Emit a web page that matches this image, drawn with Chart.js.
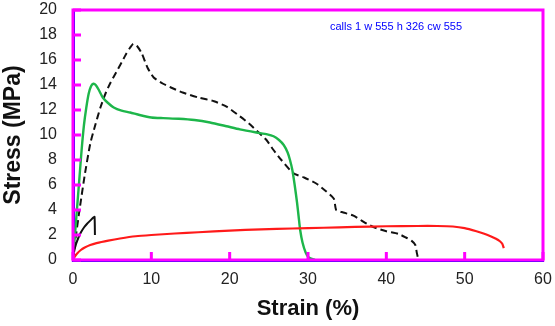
<!DOCTYPE html>
<html><head><meta charset="utf-8">
<script src="https://cdn.jsdelivr.net/npm/chart.js@4"></script>
<style>html,body{margin:0;padding:0;background:#fff}#wrap{width:555px;height:326px;position:relative}#err{position:absolute;left:330px;top:20px;width:210px;font:11px sans-serif;color:#00f}</style>
</head><body><div id="wrap"><canvas id="c"></canvas><div id="err">init</div></div>
<script>
window.onerror = function(m){ document.getElementById('err').textContent += ' WERR ' + m; };
const xTicks = [0, 10, 20, 30, 40, 50, 60];
const yTicks = [0, 2, 4, 6, 8, 10, 12, 14, 16, 18, 20];

const dashedStrain = [0, 0.3, 0.9, 1.5, 2.2, 2.8, 3.5, 4.2, 4.8, 5.5, 6.2, 6.8, 7.3, 7.7, 8.2, 8.8, 9.5, 10.3, 11.5, 12.5, 14, 16, 18, 19.6, 21.3, 22.5, 23.7, 24.7, 25.6, 26.6, 28.1, 29.5, 31.1, 32.3, 33.3, 33.6, 34.5, 35.8, 37.5, 38.5, 40, 41.5, 42.5, 43.2, 43.7, 43.9, 44.1];
const dashedStress = [0, 1.6, 4.3, 6.8, 9.3, 10.7, 12.2, 13.4, 14.2, 15.0, 15.8, 16.5, 17.0, 17.3, 17.1, 16.5, 15.4, 14.6, 14.1, 13.8, 13.4, 13.0, 12.7, 12.27, 11.5, 10.9, 10.2, 9.6, 8.8, 8.0, 6.95, 6.6, 6.1, 5.5, 4.9, 4.0, 3.8, 3.55, 2.9, 2.6, 2.3, 2.1, 1.8, 1.55, 1.2, 0.55, 0];

const greenStrain = [0, 0.2, 0.5, 0.8, 1.1, 1.4, 1.7, 2.0, 2.3, 2.6, 2.9, 3.3, 3.8, 4.4, 5.2, 6.2, 7.3, 8.5, 10, 11.5, 13.5, 15.5, 17.5, 19.6, 21.3, 23.4, 24.8, 25.6, 26.3, 26.9, 27.4, 27.7, 28.0, 28.3, 28.6, 28.8, 29.0, 29.3, 29.7, 30.1, 30.9];
const greenStress = [0, 1.6, 4.0, 6.4, 8.8, 10.8, 12.2, 13.3, 13.9, 14.1, 14.0, 13.6, 13.0, 12.6, 12.2, 11.95, 11.8, 11.6, 11.4, 11.35, 11.3, 11.2, 11.0, 10.7, 10.45, 10.2, 10.05, 9.9, 9.6, 9.2, 8.6, 8.0, 7.2, 6.0, 4.6, 3.5, 2.4, 1.4, 0.6, 0.2, 0];

const redStrain = [0, 0.2, 0.5, 1, 1.5, 2.2, 3, 4.5, 6, 8, 10, 13, 16, 20, 24, 28, 32, 36, 40, 44, 46.5, 48.5, 50, 51.5, 52.5, 53.3, 54, 54.5, 54.8, 55.0];
const redStress = [0, 0.25, 0.5, 0.8, 1.0, 1.2, 1.35, 1.55, 1.72, 1.9, 2.0, 2.12, 2.22, 2.35, 2.45, 2.52, 2.58, 2.65, 2.7, 2.72, 2.72, 2.68, 2.55, 2.3, 2.1, 1.9, 1.7, 1.5, 1.3, 0.95];

const blackStrain = [0, 0.15, 0.4, 0.7, 1.0, 1.4, 1.8, 2.2, 2.6, 2.75, 2.8];
const blackStress = [0, 0.7, 1.3, 1.8, 2.2, 2.6, 2.9, 3.15, 3.4, 3.45, 2.0];

const toPts = (xs, ys) => xs.map((x, i) => ({x, y: ys[i]}));
const AXIS = '#1a1a1a';
const FONT = 'Liberation Sans, Arial, Helvetica, sans-serif';
let calls = 0;
const frame = {
  id: 'plotFrame',
  afterDraw(chart) {
    calls++;
    const el = document.getElementById('err');
    el.textContent = 'calls ' + calls + ' w ' + chart.width + ' h ' + chart.height + ' cw ' + chart.canvas.width;
    try {
      const ctx = chart.ctx, a = chart.chartArea, sx = chart.scales.x, sy = chart.scales.y;
      ctx.save();
      ctx.setLineDash([]);
      ctx.strokeStyle = '#f0f';
      ctx.lineWidth = 3;
      ctx.strokeRect(a.left, a.top, a.right - a.left, a.bottom - a.top);
      ctx.beginPath();
      for (const v of xTicks) { const px = sx.getPixelForValue(v); ctx.moveTo(px, a.bottom); ctx.lineTo(px, a.bottom - 8); }
      for (const v of yTicks) { const py = sy.getPixelForValue(v); ctx.moveTo(a.left, py); ctx.lineTo(a.left + 8, py); }
      ctx.stroke();
      ctx.restore();
    } catch (e) { document.getElementById('err').textContent += ' ERR ' + e.message; }
  }
};
Chart.register(frame);
function zeroPad(s) { s.paddingLeft = 0; s.paddingRight = 0; s.paddingTop = 0; s.paddingBottom = 0; }
try {
new Chart(document.getElementById('c'), {
  type: 'scatter',
  data: {datasets: [
    {data: toPts(redStrain, redStress), borderColor: '#ff1a1a', borderWidth: 2.2},
    {data: toPts(blackStrain, blackStress), borderColor: '#111', borderWidth: 2},
    {data: toPts(greenStrain, greenStress), borderColor: '#1db64a', borderWidth: 2.4},
    {data: toPts(dashedStrain, dashedStress), borderColor: '#111', borderWidth: 2, borderDash: [7, 4]}
  ].map(d => Object.assign({showLine: true, pointRadius: 0, tension: 0.2, fill: false}, d))},
  options: {responsive: true, maintainAspectRatio: false, animation: false,
    layout: {padding: {top: 10, right: 12, left: 0, bottom: 0}},
    plugins: {legend: {display: false}, tooltip: {enabled: false}},
    scales: {
      x: {type: 'linear', min: 0, max: 60,
        afterBuildTicks: s => { s.ticks = xTicks.map(v => ({value: v})); },
        afterFit: s => { s.height = 66; zeroPad(s); },
        grid: {display: false, drawTicks: false}, border: {display: true, color: '#00f', width: 3},
        ticks: {color: '#222', font: {family: FONT, size: 16}, padding: 10, maxRotation: 0},
        title: {display: true, text: 'Strain (%)', color: '#111', font: {family: FONT, size: 22, weight: 'bold'}, padding: {top: 6}}},
      y: {type: 'linear', min: 0, max: 20,
        afterBuildTicks: s => { s.ticks = yTicks.map(v => ({value: v})); },
        afterFit: s => { s.width = 73; zeroPad(s); },
        grid: {display: false, drawTicks: false}, border: {display: true, color: '#00f', width: 3},
        ticks: {color: '#222', font: {family: FONT, size: 16}, padding: 16},
        title: {display: true, text: 'Stress (MPa)', color: '#111', font: {family: FONT, size: 23, weight: 'bold'}, padding: {top: 0, bottom: 0}}}
    }}
});
} catch (e) { document.getElementById('err').textContent += ' CERR ' + e.message; }
</script></body></html>
